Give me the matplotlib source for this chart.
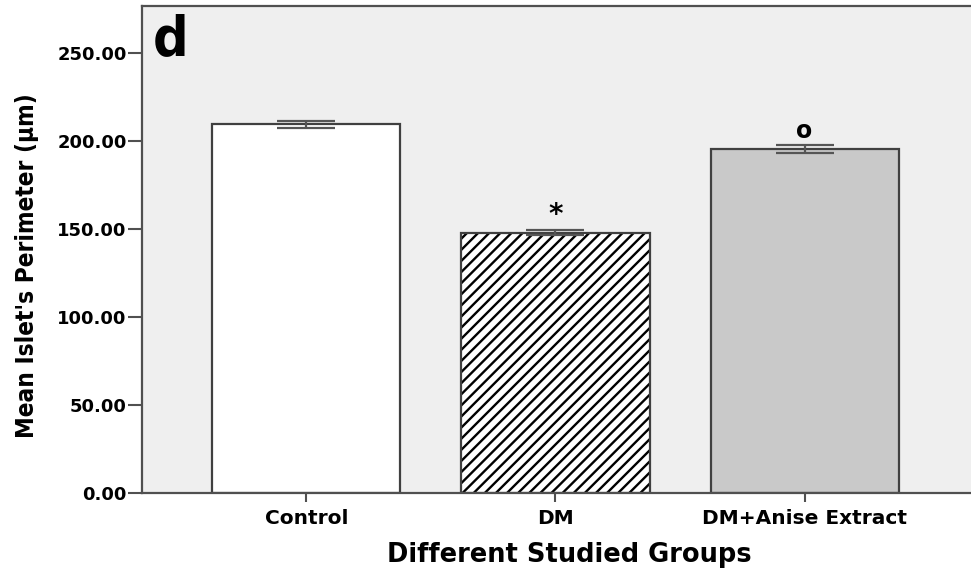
import matplotlib
matplotlib.use("Agg")
import matplotlib.pyplot as plt
from matplotlib import font_manager

# data
groups = ["Control", "DM", "DM+Anise Extract"]
means = [209.7, 148.0, 195.8]
errors = [2.0, 1.5, 2.3]
marks = ["", "*", "o"]

face_colors = ["white", "white", "#c9c9c9"]
hatches = ["", "///", ""]

names = {f.name for f in font_manager.fontManager.ttflist}
narrow = "Liberation Sans Narrow" if "Liberation Sans Narrow" in names else "DejaVu Sans"

plt.rcParams["hatch.linewidth"] = 1.7

fig = plt.figure(figsize=(9.71, 5.71), dpi=100)
ax = fig.add_axes([0.1462, 0.1366, 0.88, 0.8529])
ax.set_facecolor("#efefef")

x = list(range(len(groups)))
# hatch layer drawn in black, outline drawn separately on top
ax.bar(x, means, width=0.755, color=face_colors, edgecolor="black",
       hatch=hatches, linewidth=0, zorder=2)
ax.bar(x, means, width=0.755, color="none", edgecolor="#404040",
       linewidth=1.6, zorder=2.5)

ax.errorbar(x, means, yerr=errors, fmt="none", ecolor="#555555",
            elinewidth=1.6, capsize=21, capthick=1.6, zorder=3)

for xi, m, e, s in zip(x, means, errors, marks):
    if s == "*":
        ax.annotate(s, (xi, m + e), xytext=(0, 1), textcoords="offset points",
                    ha="center", va="bottom", fontsize=20, fontweight="bold")
    elif s:
        ax.annotate(s, (xi, m + e), xytext=(0, 1), textcoords="offset points",
                    ha="center", va="bottom", fontsize=17, fontweight="bold")

ax.set_xlim(-0.66, 2.77)
ax.set_ylim(0, 277)
ax.set_yticks([0, 50, 100, 150, 200, 250])
ax.set_yticklabels([f"{v:.2f}" for v in [0, 50, 100, 150, 200, 250]],
                   fontsize=13, fontweight="bold")
ax.set_xticks(x)
ax.set_xticklabels(groups, fontsize=14.5, fontweight="bold")
ax.tick_params(axis="y", length=10, width=1.5, color="#505050", pad=1)
ax.tick_params(axis="x", length=6.5, width=1.5, color="#505050", pad=5)

for side in ["left", "bottom", "top"]:
    ax.spines[side].set_color("#505050")
    ax.spines[side].set_linewidth(1.6)
ax.spines["right"].set_visible(False)

ax.set_xlabel("Different Studied Groups", fontsize=18.5, fontweight="bold",
              labelpad=10)
ax.set_ylabel("Mean Islet's Perimeter (\u00b5m)", fontsize=17.5, fontweight="bold",
              family=narrow, fontstretch="condensed")
ax.yaxis.set_label_coords(-0.121, 0.466)

ax.text(0.013, 0.985, "d", transform=ax.transAxes, fontsize=40,
        fontweight="bold", family=narrow, fontstretch="condensed",
        ha="left", va="top")

fig.savefig("out.png", dpi=100, facecolor="white")
